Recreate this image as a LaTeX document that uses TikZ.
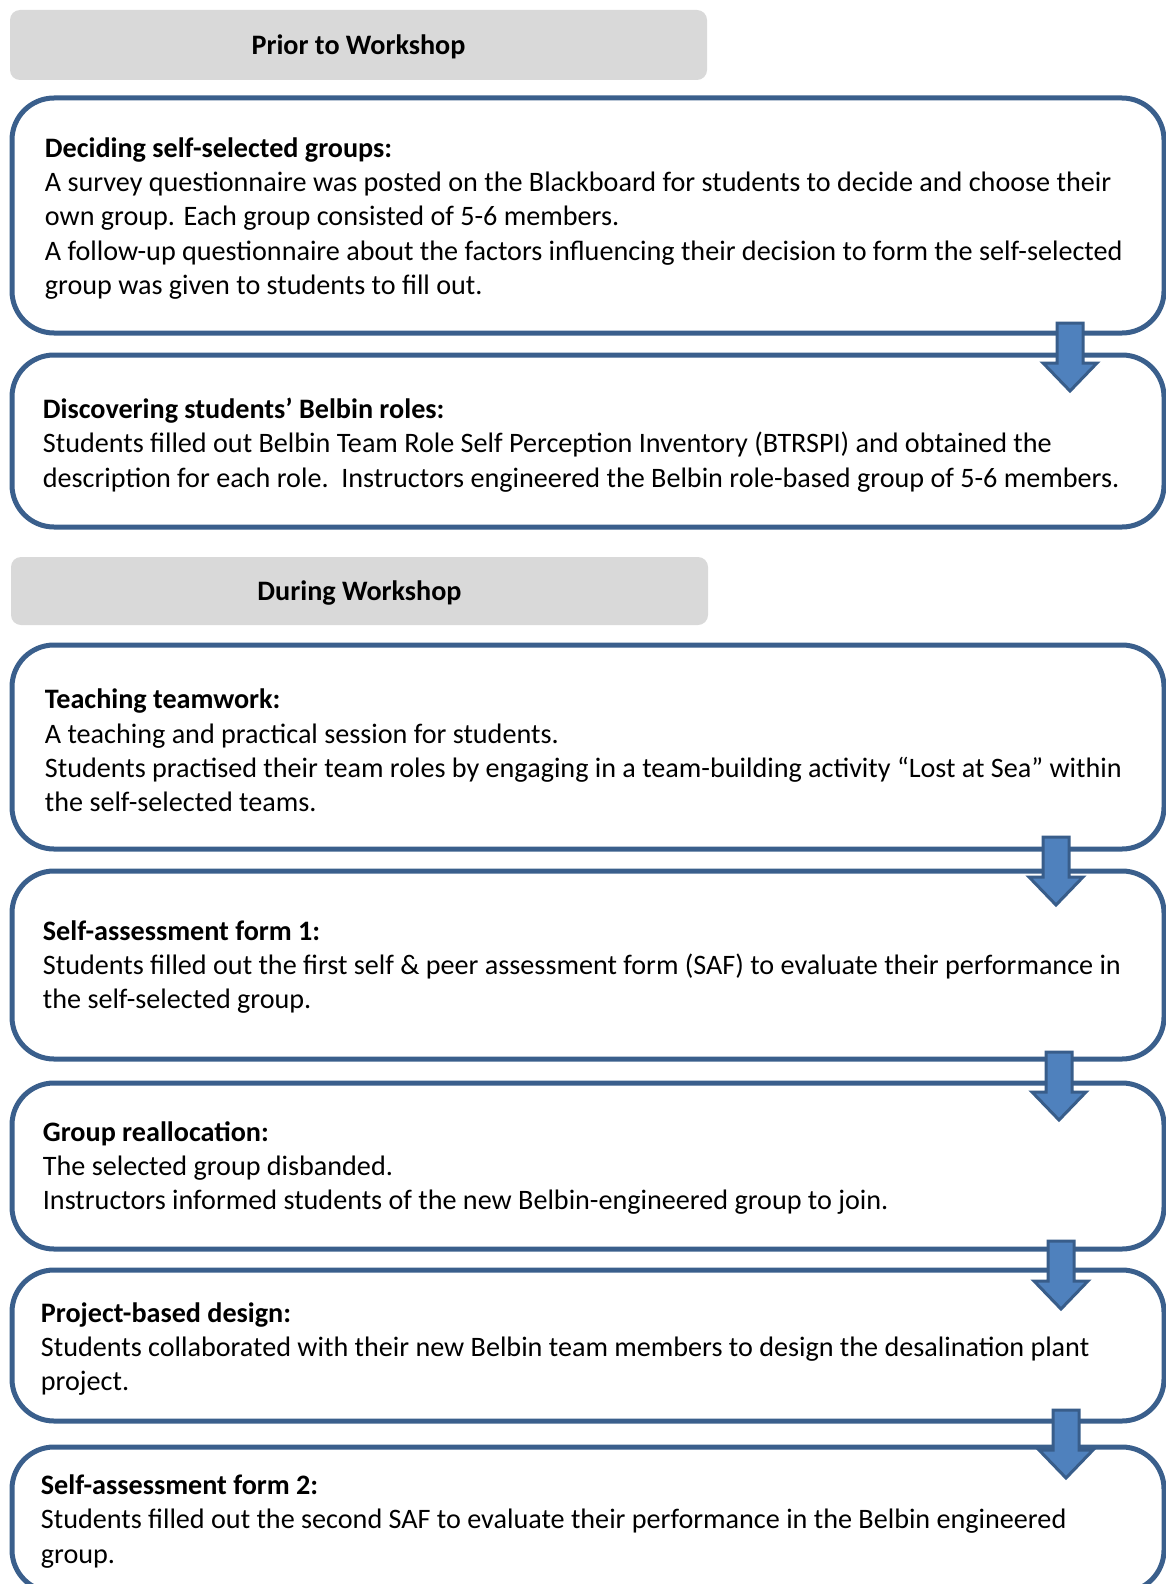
\documentclass[tikz,border=0pt]{standalone}
\usepackage{fontspec}
\setmainfont{Carlito}
\definecolor{boxline}{RGB}{58,95,140}
\definecolor{arrfill}{RGB}{79,129,189}
\definecolor{arrline}{RGB}{56,93,138}
\definecolor{phasefill}{RGB}{217,217,217}
\tikzset{
  stagebox/.style={draw=boxline, line width=2.5pt, rounded corners=21pt, fill=white,
    minimum width=576pt, inner sep=0pt},
  phasebox/.style={fill=phasefill, rounded corners=5pt, minimum width=348.5pt,
    inner sep=0pt, text height=10.4pt, text depth=1pt,
    font=\fontsize{14.08}{17.15}\selectfont\bfseries},
  stagetext/.style={anchor=west, align=left, inner sep=0pt,
    font=\fontsize{14.08}{17.15}\selectfont},
  blockarrow/.style={fill=arrfill, draw=arrline, line width=1.5pt},
  downarrow/.pic={\draw[blockarrow] (-13,0) -- (13,0) -- (13,40) -- (27,40) -- (0,68)
    -- (-27,40) -- (-13,40) -- cycle;}
}
\begin{document}
\begin{tikzpicture}[x=0.5pt, y=-0.5pt]
\useasboundingbox (0,0) rectangle (1166,1584);
\clip (0,0) rectangle (1166,1584);
% phase headers
\node[phasebox, minimum height=35pt] (g1) at (358.5,45) {Prior to Workshop};
\node[phasebox, minimum height=34pt] (g2) at (359.5,591) {During Workshop};
% stage boxes
\node[stagebox, minimum height=117.5pt] (b1) at (588,215.5) {};
\node[stagebox, minimum height=86pt]    (b2) at (588,441) {};
\node[stagebox, minimum height=102pt]   (b3) at (588,747) {};
\node[stagebox, minimum height=94pt]    (b4) at (588,965) {};
\node[stagebox, minimum height=83pt]    (b5) at (588,1166) {};
\node[stagebox, minimum height=75.5pt]  (b6) at (588,1345.5) {};
\node[stagebox, minimum height=72.5pt]  (b7) at (588,1519.5) {};
% texts
\node[stagetext] (t1) at (44.5,218.5) {\textbf{Deciding self-selected groups:}\\
A survey questionnaire was posted on the Blackboard for students to decide and choose their\\
own group. Each group consisted of 5-6 members.\\
A follow-up questionnaire about the factors influencing their decision to form the self-selected\\
group was given to students to fill out.};
\node[stagetext] (t2) at (42.5,445) {\textbf{Discovering students’ Belbin roles:}\\
Students filled out Belbin Team Role Self Perception Inventory (BTRSPI) and obtained the\\
description for each role.\ \ Instructors engineered the Belbin role-based group of 5-6 members.};
\node[stagetext] (t3) at (44.5,750.5) {\textbf{Teaching teamwork:}\\
A teaching and practical session for students.\\
Students practised their team roles by engaging in a team-building activity “Lost at Sea” within\\
the self-selected teams.};
\node[stagetext] (t4) at (42.5,967) {\textbf{Self-assessment form 1:}\\
Students filled out the first self \& peer assessment form (SAF) to evaluate their performance in\\
the self-selected group.};
\node[stagetext] (t5) at (42.5,1168) {\textbf{Group reallocation:}\\
The selected group disbanded.\\
Instructors informed students of the new Belbin-engineered group to join.};
\node[stagetext] (t6) at (40.5,1349) {\textbf{Project-based design:}\\
Students collaborated with their new Belbin team members to design the desalination plant\\
project.};
\node[stagetext] (t7) at (40.5,1521.5) {\textbf{Self-assessment form 2:}\\
Students filled out the second SAF to evaluate their performance in the Belbin engineered\\
group.};
% arrows between stages
\pic (a1) at (1070,323) {downarrow};
\pic (a2) at (1056,837) {downarrow};
\pic (a3) at (1059,1052) {downarrow};
\pic (a4) at (1061,1241) {downarrow};
\pic (a5) at (1066,1410) {downarrow};
\end{tikzpicture}
\end{document}
